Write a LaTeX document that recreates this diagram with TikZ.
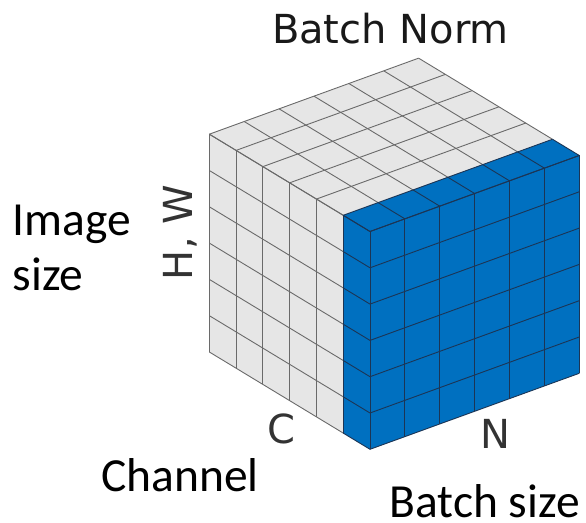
\documentclass[tikz,border=0pt]{standalone}
\usepackage{fontspec}
\setmainfont{Carlito}
\newfontfamily\dejavu{DejaVu Sans}
\definecolor{cubegrey}{HTML}{E6E6E6}
\definecolor{gridgrey}{HTML}{6A6A6A}
\definecolor{cubeblue}{HTML}{0070C0}
\definecolor{gridblue}{HTML}{1C3555}
\definecolor{axistext}{HTML}{333333}
\tikzset{
  greyline/.style={draw=gridgrey, line width=0.9pt, line join=round},
  blueline/.style={draw=gridblue, line width=0.9pt, line join=round},
  biglabel/.style={inner sep=0pt, font=\fontsize{47.5}{55}\selectfont, text=black},
  axislabel/.style={inner sep=0pt, font=\dejavu\fontsize{40}{48}\selectfont, text=axistext},
  titlelabel/.style={inner sep=0pt, font=\dejavu\fontsize{40}{48}\selectfont, text=black!90}
}
\def\Fx{370}\def\Fy{449.3}
\def\Lx{-26.78}\def\Ly{-16.22}
\def\Rx{34.88}\def\Ry{-12.67}
\def\Uy{-36.3}
\begin{document}
\begin{tikzpicture}[x=1pt,y=-1pt]
\useasboundingbox (0,0) rectangle (586,522);
% key corners
\coordinate (F) at (\Fx,\Fy);
\coordinate (FL1) at ({\Fx+\Lx},{\Fy+\Ly});
\coordinate (FL6) at ({\Fx+6*\Lx},{\Fy+6*\Ly});
\coordinate (FR6) at ({\Fx+6*\Rx},{\Fy+6*\Ry});
\coordinate (T) at (\Fx,{\Fy+6*\Uy});
\coordinate (TL1) at ({\Fx+\Lx},{\Fy+\Ly+6*\Uy});
\coordinate (TL6) at ({\Fx+6*\Lx},{\Fy+6*\Ly+6*\Uy});
\coordinate (TR6) at ({\Fx+6*\Rx},{\Fy+6*\Ry+6*\Uy});
\coordinate (TL1R6) at ({\Fx+\Lx+6*\Rx},{\Fy+\Ly+6*\Ry+6*\Uy});
\coordinate (TL6R6) at ({\Fx+6*\Lx+6*\Rx},{\Fy+6*\Ly+6*\Ry+6*\Uy});
% fills
\fill[cubegrey] (FL1) -- (FL6) -- (TL6) -- (TL1) -- cycle;
\fill[cubeblue] (F) -- (FL1) -- (TL1) -- (T) -- cycle;
\fill[cubeblue] (F) -- (FR6) -- (TR6) -- (T) -- cycle;
\fill[cubegrey] (TL1) -- (TL6) -- (TL6R6) -- (TL1R6) -- cycle;
\fill[cubeblue] (T) -- (TL1) -- (TL1R6) -- (TR6) -- cycle;
% left face grid
\foreach \i in {2,...,6} {
  \draw[greyline] ({\Fx+\i*\Lx},{\Fy+\i*\Ly}) -- ({\Fx+\i*\Lx},{\Fy+\i*\Ly+6*\Uy});
}
\foreach \j in {0,...,6} {
  \draw[greyline] ({\Fx+\Lx},{\Fy+\Ly+\j*\Uy}) -- ({\Fx+6*\Lx},{\Fy+6*\Ly+\j*\Uy});
}
% top face grid (grey part)
\foreach \a in {2,...,6} {
  \draw[greyline] ({\Fx+\a*\Lx},{\Fy+\a*\Ly+6*\Uy}) -- ({\Fx+\a*\Lx+6*\Rx},{\Fy+\a*\Ly+6*\Ry+6*\Uy});
}
\foreach \b in {0,...,6} {
  \draw[greyline] ({\Fx+\Lx+\b*\Rx},{\Fy+\Ly+\b*\Ry+6*\Uy}) -- ({\Fx+6*\Lx+\b*\Rx},{\Fy+6*\Ly+\b*\Ry+6*\Uy});
}
% blue slice grid: left strip
\foreach \i in {0,1} {
  \draw[blueline] ({\Fx+\i*\Lx},{\Fy+\i*\Ly}) -- ({\Fx+\i*\Lx},{\Fy+\i*\Ly+6*\Uy});
}
\foreach \j in {0,...,6} {
  \draw[blueline] (\Fx,{\Fy+\j*\Uy}) -- ({\Fx+\Lx},{\Fy+\Ly+\j*\Uy});
}
% blue slice grid: right face
\foreach \i in {0,...,6} {
  \draw[blueline] ({\Fx+\i*\Rx},{\Fy+\i*\Ry}) -- ({\Fx+\i*\Rx},{\Fy+\i*\Ry+6*\Uy});
}
\foreach \j in {0,...,6} {
  \draw[blueline] (\Fx,{\Fy+\j*\Uy}) -- ({\Fx+6*\Rx},{\Fy+6*\Ry+\j*\Uy});
}
% blue slice grid: top row
\foreach \a in {0,1} {
  \draw[blueline] ({\Fx+\a*\Lx},{\Fy+\a*\Ly+6*\Uy}) -- ({\Fx+\a*\Lx+6*\Rx},{\Fy+\a*\Ly+6*\Ry+6*\Uy});
}
\foreach \b in {0,...,6} {
  \draw[blueline] ({\Fx+\b*\Rx},{\Fy+\b*\Ry+6*\Uy}) -- ({\Fx+\Lx+\b*\Rx},{\Fy+\Ly+\b*\Ry+6*\Uy});
}
% labels
\node[titlelabel, anchor=base] (title) at (390.4,43) {Batch Norm};
\node[biglabel, anchor=base west, align=left] (imgsize) at (12.5,290) {Image\\size};
\node[axislabel, anchor=base, rotate=90] (hw) at (192,232.5) {H, W};
\node[axislabel, anchor=base] (clab) at (281.5,443.5) {C};
\node[axislabel, anchor=base] (nlab) at (495,448) {N};
\node[biglabel, anchor=base west] (channel) at (101,491.7) {Channel};
\node[biglabel, anchor=base west] (batchsize) at (389.5,517.5) {Batch size};
\end{tikzpicture}
\end{document}
